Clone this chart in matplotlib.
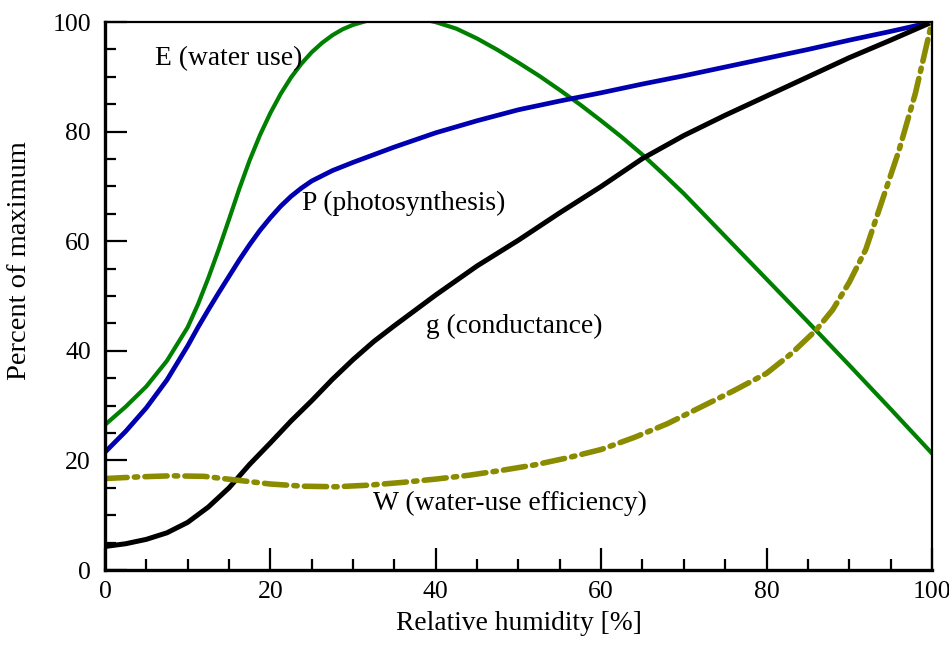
import numpy as np
import matplotlib
matplotlib.use("Agg")
import matplotlib.pyplot as plt

# values (relative humidity in %, percent of maximum)
rh_E = [0, 2.5, 5, 7.5, 10, 11.25, 12.5, 13.75, 15, 16.25, 17.5, 18.75, 20, 21.25, 22.5, 23.75,
        25, 26.25, 27.5, 28.75, 30, 32.5, 35, 37.5, 40, 42.5, 45, 47.5, 50, 52.5, 55, 57.5,
        60, 62.5, 65, 67.5, 70, 75, 80, 85, 90, 95, 100]
E = [26.5, 29.8, 33.5, 38.2, 44.3, 48.5, 53.3, 58.5, 64, 69.6, 74.8, 79.4, 83.4, 86.9, 89.9, 92.4,
     94.5, 96.2, 97.6, 98.7, 99.5, 100.6, 101.1, 100.8, 100, 98.8, 97.0, 94.9, 92.6, 90.2, 87.6, 84.9,
     82.0, 79.0, 75.8, 72.3, 68.7, 60.9, 53.1, 45.3, 37.4, 29.4, 21.3]

rh_P = [0, 2.5, 5, 7.5, 10, 11.25, 12.5, 13.75, 15, 16.25, 17.5, 18.75, 20, 21.25, 22.5, 23.75,
        25, 27.5, 30, 35, 40, 45, 50, 55, 60, 65, 70, 75, 80, 85, 90, 95, 100]
P = [21.5, 25.3, 29.6, 34.7, 40.9, 44.3, 47.5, 50.6, 53.6, 56.6, 59.4, 62.0, 64.3, 66.4, 68.2, 69.7,
     71.0, 72.9, 74.4, 77.2, 79.8, 82, 84, 85.6, 87.1, 88.7, 90.2, 91.8, 93.4, 95, 96.7, 98.3, 100]

rh_g = [0, 2.5, 5, 7.5, 10, 12.5, 15, 17.5, 20, 22.5, 25, 27.5, 30, 32.5, 35, 40, 45, 50, 55,
        60, 65, 70, 75, 80, 85, 90, 95, 100]
g = [4.3, 4.8, 5.6, 6.8, 8.7, 11.5, 15, 19.3, 23.2, 27.2, 30.9, 34.8, 38.4, 41.7, 44.6, 50.2, 55.5,
     60.2, 65.2, 70, 75.1, 79.3, 83, 86.5, 90, 93.5, 96.7, 100]

rh_W = [0, 4, 8, 12, 16, 20, 24, 28, 32, 36, 40, 44, 48, 52, 56, 60, 64, 68, 72, 76,
        80, 83, 86, 88, 90, 92, 94, 96, 98, 100]
W = [16.7, 17.0, 17.2, 17.1, 16.4, 15.7, 15.3, 15.2, 15.5, 16.0, 16.6, 17.3, 18.2, 19.2, 20.5,
     22.0, 24.2, 26.7, 29.7, 32.7, 35.9, 39.5, 43.8, 47.5, 52.5, 58.5, 67.5, 76.5, 87, 100]

plt.rcParams['font.family'] = ['Liberation Serif', 'DejaVu Serif']

fig = plt.figure(figsize=(9.49, 6.5), dpi=100)
ax = fig.add_axes([0.1106, 0.123, 0.8714, 0.843])

ax.plot(rh_E, E, color='#008000', lw=3, solid_joinstyle='round')
ax.plot(rh_P, P, color='#0000b0', lw=3.4, solid_joinstyle='round')
ax.plot(rh_g, g, color='black', lw=3.6, solid_joinstyle='round')
ax.plot(rh_W, W, color='#8b8b00', lw=4, dashes=(4, 1.3, 0.6, 1.3), dash_capstyle='round')

fs = 19.8
ax.text(6.0, 92.2, 'E (water use)', fontsize=fs, va='baseline')
ax.text(23.8, 65.7, 'P (photosynthesis)', fontsize=fs, va='baseline')
ax.text(38.8, 43.2, 'g (conductance)', fontsize=fs, va='baseline')
ax.text(32.4, 10.9, 'W (water-use efficiency)', fontsize=fs, va='baseline')

ax.set_xlim(0, 100)
ax.set_ylim(0, 100)
ax.set_xticks(np.arange(0, 101, 20))
ax.set_yticks(np.arange(0, 101, 20))
ax.set_xticks(np.arange(0, 101, 5), minor=True)
ax.set_yticks(np.arange(0, 101, 5), minor=True)
ax.tick_params(which='both', direction='in', top=False, right=False, width=1.6, labelsize=18.5)
ax.tick_params(which='major', length=16, pad=8)
ax.tick_params(which='minor', length=8)
ax.tick_params(axis='y', which='major', pad=10)

ax.spines['left'].set_linewidth(2.4)
ax.spines['bottom'].set_linewidth(2.4)
ax.spines['top'].set_linewidth(1.6)
ax.spines['right'].set_linewidth(1.6)

ax.set_xlabel('Relative humidity [%]', fontsize=fs, labelpad=6)
ax.set_ylabel('Percent of maximum', fontsize=20.5)
ax.yaxis.set_label_coords(-0.088, 0.564)

fig.savefig('out.png', dpi=100)
